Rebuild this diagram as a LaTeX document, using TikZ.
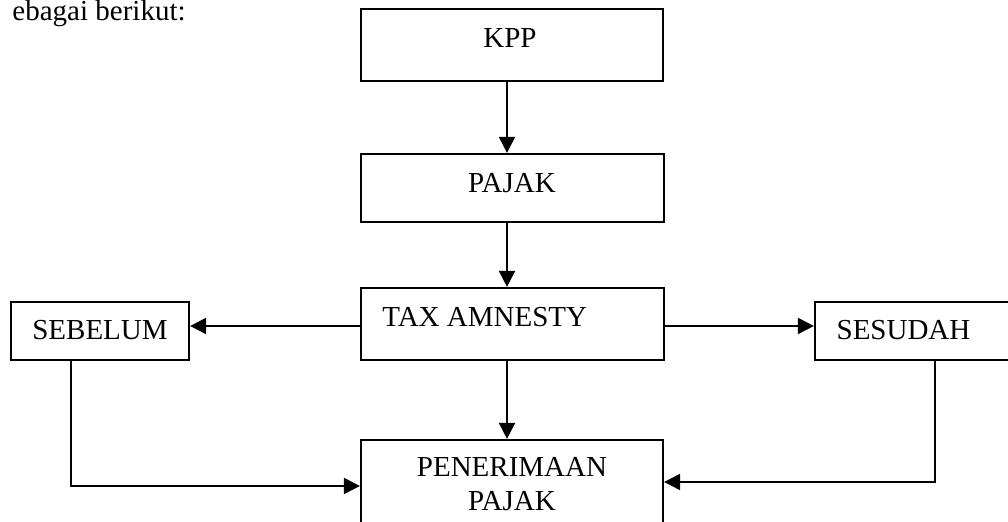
\documentclass[tikz,border=0pt]{standalone}
\usepackage{fontspec}
\setmainfont{Liberation Serif}
\usetikzlibrary{arrows.meta}
\tikzset{
  boxnode/.style={draw=black, line width=1.1pt, inner sep=0pt, fill=none},
  txt/.style={inner sep=0pt, anchor=base, font=\fontsize{14.5}{17.4}\selectfont},
  arr/.style={line width=1pt, -{Triangle[length=8pt,width=8pt]}},
  ln/.style={line width=1pt}
}
\begin{document}
\begin{tikzpicture}[x=0.5pt,y=-0.5pt]
\useasboundingbox (0,0) rectangle (1008,522);
% boxes
\node[boxnode, minimum width=151pt, minimum height=36pt] (kpp) at (512,45) {};
\node[boxnode, minimum width=151.5pt, minimum height=34pt] (pajak) at (512.5,188) {};
\node[boxnode, minimum width=151.5pt, minimum height=36pt] (tax) at (512.5,324) {};
\node[boxnode, minimum width=89pt, minimum height=29pt] (sebelum) at (100,331) {};
\node[boxnode, minimum width=100pt, minimum height=29pt] (sesudah) at (915,331) {};
\node[boxnode, minimum width=151pt, minimum height=46pt] (pen) at (512,486) {};
% texts
\node[txt, anchor=base east] (intro) at (186,21) {ebagai berikut:};
\node[txt] (tkpp) at (510,48) {KPP};
\node[txt] (tpajak) at (512,193) {PAJAK};
\node[txt, anchor=base west] (ttax) at (382,327) {TAX AMNESTY};
\node[txt] (tsebelum) at (100,340) {SEBELUM};
\node[txt] (tsesudah) at (903.5,340) {SESUDAH};
\node[txt, align=center] (tpen) at (512,511) {PENERIMAAN\\PAJAK};
% helper coordinates
\coordinate (cx) at (507,0);
\coordinate (ay) at (0,326);
\coordinate (ly) at (0,486);
\coordinate (ry) at (0,482);
\coordinate (lx) at (71,0);
\coordinate (rx) at (935,0);
% connectors
\draw[arr] (kpp.south -| cx) -- (pajak.north -| cx);
\draw[arr] (pajak.south -| cx) -- (tax.north -| cx);
\draw[arr] (tax.south -| cx) -- (pen.north -| cx);
\draw[arr] (tax.west |- ay) -- (sebelum.east |- ay);
\draw[arr] (tax.east |- ay) -- (sesudah.west |- ay);
\draw[arr] (sebelum.south -| lx) -- (lx |- ly) -- (pen.west |- ly);
\draw[arr] (sesudah.south -| rx) -- (rx |- ry) -- (pen.east |- ry);
\end{tikzpicture}
\end{document}
